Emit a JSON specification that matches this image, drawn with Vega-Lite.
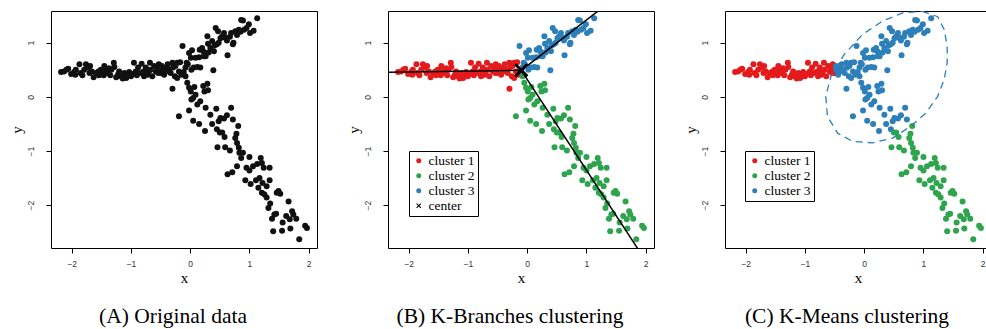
{
  "$schema": "https://vega.github.io/schema/vega-lite/v6.json",
  "padding": {"left": 8, "top": 10, "right": 0, "bottom": 0},
  "spacing": 27,
  "resolve": {"scale": {"color": "independent", "shape": "independent"}, "legend": {"color": "independent", "shape": "independent"}},
  "config": {
    "font": "Times New Roman, Liberation Serif, DejaVu Serif, serif",
    "view": {"stroke": "black", "strokeWidth": 1},
    "axis": {"domain": false, "grid": false, "tickColor": "black", "tickSize": 5, "labelFont": "Liberation Sans, Arial, sans-serif", "labelFontSize": 8.5, "labelColor": "#333", "titleFont": "Times New Roman, Liberation Serif, DejaVu Serif, serif", "titleFontSize": 15, "titleFontWeight": "normal", "titleColor": "black", "format": "d"},
    "axisX": {"labelPadding": 6, "titlePadding": 3},
    "axisY": {"labelAngle": -90, "labelAlign": "center", "labelBaseline": "bottom", "labelPadding": 11, "titlePadding": 2},
    "title": {"orient": "bottom", "font": "Times New Roman, Liberation Serif, DejaVu Serif, serif", "fontSize": 21.5, "fontWeight": "normal", "color": "black", "offset": 20, "dx": -11},
    "legend": {"labelFont": "Times New Roman, Liberation Serif, DejaVu Serif, serif", "labelFontSize": 13.5, "labelColor": "black", "strokeColor": "black", "fillColor": "white", "padding": 3, "symbolSize": 25, "rowPadding": 0, "labelOffset": 3, "cornerRadius": 0, "symbolStrokeWidth": 0}
  },
  "datasets": {
    "pts": [
      {"x":-2.18,"y":0.46,"b":"cluster 1","m":"cluster 1"},{"x":-2.13,"y":0.47,"b":"cluster 1","m":"cluster 1"},{"x":-2.09,"y":0.50,"b":"cluster 1","m":"cluster 1"},{"x":-2.06,"y":0.52,"b":"cluster 1","m":"cluster 1"},{"x":-2.01,"y":0.42,"b":"cluster 1","m":"cluster 1"},{"x":-1.96,"y":0.46,"b":"cluster 1","m":"cluster 1"},{"x":-1.94,"y":0.41,"b":"cluster 1","m":"cluster 1"},{"x":-1.93,"y":0.50,"b":"cluster 1","m":"cluster 1"},{"x":-1.87,"y":0.60,"b":"cluster 1","m":"cluster 1"},{"x":-1.85,"y":0.44,"b":"cluster 1","m":"cluster 1"},
      {"x":-1.82,"y":0.40,"b":"cluster 1","m":"cluster 1"},{"x":-1.79,"y":0.50,"b":"cluster 1","m":"cluster 1"},{"x":-1.76,"y":0.60,"b":"cluster 1","m":"cluster 1"},{"x":-1.73,"y":0.54,"b":"cluster 1","m":"cluster 1"},{"x":-1.70,"y":0.44,"b":"cluster 1","m":"cluster 1"},{"x":-1.69,"y":0.57,"b":"cluster 1","m":"cluster 1"},{"x":-1.66,"y":0.47,"b":"cluster 1","m":"cluster 1"},{"x":-1.63,"y":0.36,"b":"cluster 1","m":"cluster 1"},{"x":-1.59,"y":0.44,"b":"cluster 1","m":"cluster 1"},{"x":-1.55,"y":0.47,"b":"cluster 1","m":"cluster 1"},
      {"x":-1.54,"y":0.40,"b":"cluster 1","m":"cluster 1"},{"x":-1.51,"y":0.50,"b":"cluster 1","m":"cluster 1"},{"x":-1.48,"y":0.46,"b":"cluster 1","m":"cluster 1"},{"x":-1.46,"y":0.40,"b":"cluster 1","m":"cluster 1"},{"x":-1.45,"y":0.57,"b":"cluster 1","m":"cluster 1"},{"x":-1.42,"y":0.49,"b":"cluster 1","m":"cluster 1"},{"x":-1.39,"y":0.44,"b":"cluster 1","m":"cluster 1"},{"x":-1.37,"y":0.53,"b":"cluster 1","m":"cluster 1"},{"x":-1.35,"y":0.40,"b":"cluster 1","m":"cluster 1"},{"x":-1.33,"y":0.50,"b":"cluster 1","m":"cluster 1"},
      {"x":-1.29,"y":0.63,"b":"cluster 1","m":"cluster 1"},{"x":-1.28,"y":0.55,"b":"cluster 1","m":"cluster 1"},{"x":-1.25,"y":0.36,"b":"cluster 1","m":"cluster 1"},{"x":-1.22,"y":0.41,"b":"cluster 1","m":"cluster 1"},{"x":-1.20,"y":0.47,"b":"cluster 1","m":"cluster 1"},{"x":-1.17,"y":0.38,"b":"cluster 1","m":"cluster 1"},{"x":-1.14,"y":0.34,"b":"cluster 1","m":"cluster 1"},{"x":-1.11,"y":0.44,"b":"cluster 1","m":"cluster 1"},{"x":-1.08,"y":0.35,"b":"cluster 1","m":"cluster 1"},{"x":-1.07,"y":0.40,"b":"cluster 1","m":"cluster 1"},
      {"x":-1.03,"y":0.46,"b":"cluster 1","m":"cluster 1"},{"x":-1.00,"y":0.38,"b":"cluster 1","m":"cluster 1"},{"x":-0.97,"y":0.42,"b":"cluster 1","m":"cluster 1"},{"x":-0.95,"y":0.63,"b":"cluster 1","m":"cluster 1"},{"x":-0.92,"y":0.47,"b":"cluster 1","m":"cluster 1"},{"x":-0.90,"y":0.40,"b":"cluster 1","m":"cluster 1"},{"x":-0.88,"y":0.54,"b":"cluster 1","m":"cluster 1"},{"x":-0.85,"y":0.44,"b":"cluster 1","m":"cluster 1"},{"x":-0.82,"y":0.61,"b":"cluster 1","m":"cluster 1"},{"x":-0.79,"y":0.47,"b":"cluster 1","m":"cluster 1"},
      {"x":-0.78,"y":0.38,"b":"cluster 1","m":"cluster 1"},{"x":-0.75,"y":0.54,"b":"cluster 1","m":"cluster 1"},{"x":-0.72,"y":0.41,"b":"cluster 1","m":"cluster 1"},{"x":-0.70,"y":0.47,"b":"cluster 1","m":"cluster 1"},{"x":-0.68,"y":0.63,"b":"cluster 1","m":"cluster 1"},{"x":-0.67,"y":0.50,"b":"cluster 1","m":"cluster 1"},{"x":-0.64,"y":0.38,"b":"cluster 1","m":"cluster 1"},{"x":-0.61,"y":0.57,"b":"cluster 1","m":"cluster 1"},{"x":-0.58,"y":0.47,"b":"cluster 1","m":"cluster 1"},{"x":-0.55,"y":0.54,"b":"cluster 1","m":"cluster 1"},
      {"x":-0.54,"y":0.44,"b":"cluster 1","m":"cluster 1"},{"x":-0.53,"y":0.60,"b":"cluster 1","m":"cluster 1"},{"x":-0.50,"y":0.44,"b":"cluster 1","m":"cluster 1"},{"x":-0.48,"y":0.57,"b":"cluster 1","m":"cluster 3"},{"x":-0.47,"y":0.50,"b":"cluster 1","m":"cluster 3"},{"x":-0.44,"y":0.41,"b":"cluster 1","m":"cluster 3"},{"x":-0.41,"y":0.47,"b":"cluster 1","m":"cluster 3"},{"x":-0.40,"y":0.54,"b":"cluster 1","m":"cluster 3"},{"x":-0.38,"y":0.60,"b":"cluster 1","m":"cluster 3"},{"x":-0.36,"y":0.50,"b":"cluster 1","m":"cluster 3"},
      {"x":-0.33,"y":0.44,"b":"cluster 1","m":"cluster 3"},{"x":-0.30,"y":0.63,"b":"cluster 1","m":"cluster 3"},{"x":-0.30,"y":0.15,"b":"cluster 1","m":"cluster 3"},{"x":-0.29,"y":0.54,"b":"cluster 1","m":"cluster 3"},{"x":-0.26,"y":0.38,"b":"cluster 1","m":"cluster 3"},{"x":-0.25,"y":0.57,"b":"cluster 1","m":"cluster 3"},{"x":-0.22,"y":0.35,"b":"cluster 1","m":"cluster 3"},{"x":-0.22,"y":0.63,"b":"cluster 1","m":"cluster 3"},{"x":-0.19,"y":0.47,"b":"cluster 1","m":"cluster 3"},{"x":-0.17,"y":0.64,"b":"cluster 1","m":"cluster 3"},
      {"x":-0.15,"y":0.41,"b":"cluster 1","m":"cluster 3"},
      {"x":-0.13,"y":0.94,"b":"cluster 3","m":"cluster 3"},{"x":-0.11,"y":0.46,"b":"cluster 3","m":"cluster 3"},{"x":-0.08,"y":0.54,"b":"cluster 3","m":"cluster 3"},{"x":-0.06,"y":0.63,"b":"cluster 3","m":"cluster 3"},{"x":-0.04,"y":0.60,"b":"cluster 3","m":"cluster 3"},{"x":-0.02,"y":0.81,"b":"cluster 3","m":"cluster 3"},{"x":0.01,"y":0.72,"b":"cluster 3","m":"cluster 3"},{"x":0.02,"y":0.50,"b":"cluster 3","m":"cluster 3"},{"x":0.03,"y":0.86,"b":"cluster 3","m":"cluster 3"},{"x":0.06,"y":0.54,"b":"cluster 3","m":"cluster 3"},
      {"x":0.09,"y":0.72,"b":"cluster 3","m":"cluster 3"},{"x":0.12,"y":0.55,"b":"cluster 3","m":"cluster 3"},{"x":0.15,"y":0.73,"b":"cluster 3","m":"cluster 3"},{"x":0.16,"y":0.87,"b":"cluster 3","m":"cluster 3"},{"x":0.17,"y":0.54,"b":"cluster 3","m":"cluster 3"},{"x":0.20,"y":0.90,"b":"cluster 3","m":"cluster 3"},{"x":0.22,"y":0.84,"b":"cluster 3","m":"cluster 3"},{"x":0.23,"y":0.75,"b":"cluster 3","m":"cluster 3"},{"x":0.26,"y":0.75,"b":"cluster 3","m":"cluster 3"},{"x":0.29,"y":1.12,"b":"cluster 3","m":"cluster 3"},
      {"x":0.30,"y":0.98,"b":"cluster 3","m":"cluster 3"},{"x":0.31,"y":0.82,"b":"cluster 3","m":"cluster 3"},{"x":0.34,"y":0.90,"b":"cluster 3","m":"cluster 3"},{"x":0.37,"y":1.03,"b":"cluster 3","m":"cluster 3"},{"x":0.39,"y":0.49,"b":"cluster 3","m":"cluster 3"},{"x":0.40,"y":0.84,"b":"cluster 3","m":"cluster 3"},{"x":0.41,"y":0.95,"b":"cluster 3","m":"cluster 3"},{"x":0.43,"y":1.27,"b":"cluster 3","m":"cluster 3"},{"x":0.45,"y":0.97,"b":"cluster 3","m":"cluster 3"},{"x":0.47,"y":1.21,"b":"cluster 3","m":"cluster 3"},
      {"x":0.48,"y":1.00,"b":"cluster 3","m":"cluster 3"},{"x":0.51,"y":1.08,"b":"cluster 3","m":"cluster 3"},{"x":0.54,"y":1.12,"b":"cluster 3","m":"cluster 3"},{"x":0.57,"y":1.18,"b":"cluster 3","m":"cluster 3"},{"x":0.59,"y":1.09,"b":"cluster 3","m":"cluster 3"},{"x":0.62,"y":1.04,"b":"cluster 3","m":"cluster 3"},{"x":0.63,"y":0.77,"b":"cluster 3","m":"cluster 3"},{"x":0.67,"y":1.11,"b":"cluster 3","m":"cluster 3"},{"x":0.69,"y":1.18,"b":"cluster 3","m":"cluster 3"},{"x":0.72,"y":0.97,"b":"cluster 3","m":"cluster 3"},
      {"x":0.73,"y":1.00,"b":"cluster 3","m":"cluster 3"},{"x":0.76,"y":1.21,"b":"cluster 3","m":"cluster 3"},{"x":0.79,"y":1.14,"b":"cluster 3","m":"cluster 3"},{"x":0.82,"y":1.24,"b":"cluster 3","m":"cluster 3"},{"x":0.85,"y":1.20,"b":"cluster 3","m":"cluster 3"},{"x":0.86,"y":1.42,"b":"cluster 3","m":"cluster 3"},{"x":0.89,"y":1.41,"b":"cluster 3","m":"cluster 3"},{"x":0.91,"y":1.24,"b":"cluster 3","m":"cluster 3"},{"x":0.95,"y":1.27,"b":"cluster 3","m":"cluster 3"},{"x":0.99,"y":1.34,"b":"cluster 3","m":"cluster 3"},
      {"x":1.01,"y":1.18,"b":"cluster 3","m":"cluster 3"},{"x":1.07,"y":1.22,"b":"cluster 3","m":"cluster 3"},{"x":1.13,"y":1.45,"b":"cluster 3","m":"cluster 3"},
      {"x":-0.08,"y":0.38,"b":"cluster 2","m":"cluster 3"},{"x":-0.05,"y":0.26,"b":"cluster 2","m":"cluster 3"},{"x":-0.02,"y":0.17,"b":"cluster 2","m":"cluster 3"},{"x":0.01,"y":0.10,"b":"cluster 2","m":"cluster 3"},{"x":0.02,"y":-0.05,"b":"cluster 2","m":"cluster 3"},{"x":0.05,"y":-0.02,"b":"cluster 2","m":"cluster 3"},{"x":0.07,"y":0.18,"b":"cluster 2","m":"cluster 3"},{"x":0.09,"y":0.04,"b":"cluster 2","m":"cluster 3"},{"x":-0.02,"y":-0.25,"b":"cluster 2","m":"cluster 3"},{"x":-0.19,"y":-0.36,"b":"cluster 2","m":"cluster 3"},
      {"x":0.05,"y":-0.44,"b":"cluster 2","m":"cluster 3"},{"x":0.12,"y":-0.14,"b":"cluster 2","m":"cluster 3"},{"x":0.15,"y":-0.50,"b":"cluster 2","m":"cluster 3"},{"x":0.17,"y":-0.08,"b":"cluster 2","m":"cluster 3"},{"x":0.22,"y":0.20,"b":"cluster 2","m":"cluster 3"},{"x":0.24,"y":0.10,"b":"cluster 2","m":"cluster 3"},{"x":0.26,"y":-0.20,"b":"cluster 2","m":"cluster 3"},{"x":0.29,"y":0.24,"b":"cluster 2","m":"cluster 3"},{"x":0.30,"y":0.12,"b":"cluster 2","m":"cluster 3"},{"x":0.25,"y":-0.63,"b":"cluster 2","m":"cluster 3"},
      {"x":0.34,"y":-0.33,"b":"cluster 2","m":"cluster 3"},{"x":0.37,"y":-0.50,"b":"cluster 2","m":"cluster 3"},{"x":0.44,"y":-0.22,"b":"cluster 2","m":"cluster 3"},{"x":0.45,"y":-0.60,"b":"cluster 2","m":"cluster 3"},{"x":0.48,"y":-0.45,"b":"cluster 2","m":"cluster 3"},{"x":0.51,"y":-0.39,"b":"cluster 2","m":"cluster 3"},{"x":0.57,"y":-0.40,"b":"cluster 2","m":"cluster 3"},{"x":0.62,"y":-0.34,"b":"cluster 2","m":"cluster 3"},{"x":0.69,"y":-0.20,"b":"cluster 2","m":"cluster 3"},{"x":0.72,"y":-0.42,"b":"cluster 2","m":"cluster 3"},
      {"x":0.46,"y":-0.93,"b":"cluster 2","m":"cluster 2"},{"x":0.50,"y":-0.66,"b":"cluster 2","m":"cluster 2"},{"x":0.54,"y":-0.66,"b":"cluster 2","m":"cluster 2"},{"x":0.58,"y":-0.74,"b":"cluster 2","m":"cluster 2"},{"x":0.59,"y":-0.93,"b":"cluster 2","m":"cluster 2"},{"x":0.63,"y":-1.43,"b":"cluster 2","m":"cluster 2"},{"x":0.67,"y":-0.99,"b":"cluster 2","m":"cluster 2"},{"x":0.71,"y":-1.39,"b":"cluster 2","m":"cluster 2"},{"x":0.76,"y":-0.76,"b":"cluster 2","m":"cluster 2"},{"x":0.78,"y":-0.68,"b":"cluster 2","m":"cluster 2"},
      {"x":0.79,"y":-0.85,"b":"cluster 2","m":"cluster 2"},{"x":0.81,"y":-0.54,"b":"cluster 2","m":"cluster 2"},{"x":0.82,"y":-0.94,"b":"cluster 2","m":"cluster 2"},{"x":0.83,"y":-1.03,"b":"cluster 2","m":"cluster 2"},{"x":0.86,"y":-1.13,"b":"cluster 2","m":"cluster 2"},{"x":0.79,"y":-1.28,"b":"cluster 2","m":"cluster 2"},{"x":0.89,"y":-1.03,"b":"cluster 2","m":"cluster 2"},{"x":0.93,"y":-1.54,"b":"cluster 2","m":"cluster 2"},{"x":0.95,"y":-1.31,"b":"cluster 2","m":"cluster 2"},{"x":1.00,"y":-1.11,"b":"cluster 2","m":"cluster 2"},
      {"x":1.00,"y":-1.36,"b":"cluster 2","m":"cluster 2"},{"x":1.02,"y":-1.61,"b":"cluster 2","m":"cluster 2"},{"x":1.06,"y":-1.28,"b":"cluster 2","m":"cluster 2"},{"x":1.11,"y":-1.54,"b":"cluster 2","m":"cluster 2"},{"x":1.13,"y":-1.24,"b":"cluster 2","m":"cluster 2"},{"x":1.15,"y":-1.68,"b":"cluster 2","m":"cluster 2"},{"x":1.17,"y":-1.50,"b":"cluster 2","m":"cluster 2"},{"x":1.19,"y":-1.13,"b":"cluster 2","m":"cluster 2"},{"x":1.21,"y":-1.22,"b":"cluster 2","m":"cluster 2"},{"x":1.21,"y":-1.77,"b":"cluster 2","m":"cluster 2"},
      {"x":1.22,"y":-1.59,"b":"cluster 2","m":"cluster 2"},{"x":1.24,"y":-1.31,"b":"cluster 2","m":"cluster 2"},{"x":1.25,"y":-1.80,"b":"cluster 2","m":"cluster 2"},{"x":1.29,"y":-1.86,"b":"cluster 2","m":"cluster 2"},{"x":1.29,"y":-1.65,"b":"cluster 2","m":"cluster 2"},{"x":1.32,"y":-2.05,"b":"cluster 2","m":"cluster 2"},{"x":1.34,"y":-1.54,"b":"cluster 2","m":"cluster 2"},{"x":1.34,"y":-1.31,"b":"cluster 2","m":"cluster 2"},{"x":1.35,"y":-1.97,"b":"cluster 2","m":"cluster 2"},{"x":1.38,"y":-2.25,"b":"cluster 2","m":"cluster 2"},
      {"x":1.40,"y":-2.48,"b":"cluster 2","m":"cluster 2"},{"x":1.42,"y":-2.17,"b":"cluster 2","m":"cluster 2"},{"x":1.45,"y":-2.16,"b":"cluster 2","m":"cluster 2"},{"x":1.46,"y":-1.77,"b":"cluster 2","m":"cluster 2"},{"x":1.49,"y":-1.74,"b":"cluster 2","m":"cluster 2"},{"x":1.52,"y":-1.79,"b":"cluster 2","m":"cluster 2"},{"x":1.55,"y":-2.47,"b":"cluster 2","m":"cluster 2"},{"x":1.56,"y":-2.32,"b":"cluster 2","m":"cluster 2"},{"x":1.62,"y":-2.20,"b":"cluster 2","m":"cluster 2"},{"x":1.66,"y":-1.93,"b":"cluster 2","m":"cluster 2"},
      {"x":1.68,"y":-2.26,"b":"cluster 2","m":"cluster 2"},{"x":1.69,"y":-2.43,"b":"cluster 2","m":"cluster 2"},{"x":1.72,"y":-2.11,"b":"cluster 2","m":"cluster 2"},{"x":1.74,"y":-2.17,"b":"cluster 2","m":"cluster 2"},{"x":1.79,"y":-2.25,"b":"cluster 2","m":"cluster 2"},{"x":1.84,"y":-2.63,"b":"cluster 2","m":"cluster 2"},{"x":1.94,"y":-2.38,"b":"cluster 2","m":"cluster 2"},{"x":1.97,"y":-2.42,"b":"cluster 2","m":"cluster 2"}
    ],
    "branches": [
      {"seg":"left","x":-2.4,"y":0.455},{"seg":"left","x":-0.1,"y":0.49},
      {"seg":"up","x":-0.1,"y":0.49},{"seg":"up","x":1.25,"y":1.63},
      {"seg":"down","x":-0.1,"y":0.49},{"seg":"down","x":1.9,"y":-2.86}
    ],
    "center": [{"x":-0.1,"y":0.49,"b":"center"}],
    "ellipse": [
      {"i":0,"x":0.98,"y":1.58},{"i":1,"x":1.24,"y":1.48},{"i":2,"x":1.35,"y":1.24},{"i":3,"x":1.40,"y":0.94},{"i":4,"x":1.40,"y":0.63},{"i":5,"x":1.35,"y":0.32},{"i":6,"x":1.24,"y":0.01},{"i":7,"x":1.04,"y":-0.30},{"i":8,"x":0.79,"y":-0.54},{"i":9,"x":0.48,"y":-0.76},{"i":10,"x":0.14,"y":-0.85},{"i":11,"x":-0.20,"y":-0.82},{"i":12,"x":-0.45,"y":-0.67},{"i":13,"x":-0.62,"y":-0.36},{"i":14,"x":-0.65,"y":0.01},{"i":15,"x":-0.56,"y":0.38},{"i":16,"x":-0.34,"y":0.78},{"i":17,"x":-0.03,"y":1.15},{"i":18,"x":0.31,"y":1.40},{"i":19,"x":0.65,"y":1.55},{"i":20,"x":0.98,"y":1.58}
    ]
  },
  "hconcat": [
    {
      "title": {"text": "(A) Original data"},
      "width": 266, "height": 237,
      "data": {"name": "pts"},
      "mark": {"type": "point", "filled": true, "size": 36, "opacity": 1, "color": "#111111"},
      "encoding": {
        "x": {"field": "x", "type": "quantitative", "scale": {"domain": [-2.35, 2.14], "nice": false, "zero": false}, "axis": {"values": [-2, -1, 0, 1, 2], "title": "x"}},
        "y": {"field": "y", "type": "quantitative", "scale": {"domain": [-2.79, 1.585], "nice": false, "zero": false}, "axis": {"values": [-2, -1, 0, 1], "title": "y"}}
      }
    },
    {
      "title": {"text": "(B) K-Branches clustering"},
      "width": 266, "height": 237,
      "layer": [
        {
          "data": {"name": "pts"},
          "mark": {"type": "point", "filled": true, "size": 36, "opacity": 1},
          "encoding": {
            "x": {"field": "x", "type": "quantitative", "scale": {"domain": [-2.35, 2.14], "nice": false, "zero": false}, "axis": {"values": [-2, -1, 0, 1, 2], "title": "x"}},
            "y": {"field": "y", "type": "quantitative", "scale": {"domain": [-2.79, 1.585], "nice": false, "zero": false}, "axis": {"values": [-2, -1, 0, 1], "title": "y"}},
            "color": {"field": "b", "type": "nominal", "scale": {"domain": ["cluster 1", "cluster 2", "cluster 3", "center"], "range": ["#e41a1c", "#2ea44f", "#2c7fb8", "black"]}, "legend": {"orient": "none", "legendX": 21, "legendY": 140, "title": null}},
            "shape": {"field": "b", "type": "nominal", "scale": {"domain": ["cluster 1", "cluster 2", "cluster 3", "center"], "range": ["circle", "circle", "circle", "M-1,-0.7L-0.3,0L-1,0.7L-0.7,1L0,0.3L0.7,1L1,0.7L0.3,0L1,-0.7L0.7,-1L0,-0.3L-0.7,-1Z"]}, "legend": {"orient": "none", "legendX": 21, "legendY": 140, "title": null}}
          }
        },
        {
          "data": {"name": "branches"},
          "mark": {"type": "line", "color": "black", "strokeWidth": 1.5, "clip": true},
          "encoding": {
            "x": {"field": "x", "type": "quantitative"},
            "y": {"field": "y", "type": "quantitative"},
            "detail": {"field": "seg", "type": "nominal"}
          }
        },
        {
          "data": {"name": "center"},
          "mark": {"type": "point", "filled": true, "size": 200, "opacity": 1},
          "encoding": {
            "x": {"field": "x", "type": "quantitative"},
            "y": {"field": "y", "type": "quantitative"},
            "color": {"field": "b", "type": "nominal", "legend": {"orient": "none", "legendX": 21, "legendY": 140, "title": null}},
            "shape": {"field": "b", "type": "nominal", "legend": {"orient": "none", "legendX": 21, "legendY": 140, "title": null}}
          }
        }
      ]
    },
    {
      "title": {"text": "(C) K-Means clustering"},
      "width": 266, "height": 237,
      "layer": [
        {
          "data": {"name": "pts"},
          "mark": {"type": "point", "filled": true, "size": 36, "opacity": 1},
          "encoding": {
            "x": {"field": "x", "type": "quantitative", "scale": {"domain": [-2.35, 2.14], "nice": false, "zero": false}, "axis": {"values": [-2, -1, 0, 1, 2], "title": "x"}},
            "y": {"field": "y", "type": "quantitative", "scale": {"domain": [-2.79, 1.585], "nice": false, "zero": false}, "axis": {"values": [-2, -1, 0, 1], "title": "y"}},
            "color": {"field": "m", "type": "nominal", "scale": {"domain": ["cluster 1", "cluster 2", "cluster 3"], "range": ["#e41a1c", "#2ea44f", "#2c7fb8"]}, "legend": {"orient": "none", "legendX": 20, "legendY": 140, "title": null, "symbolType": "circle"}}
          }
        },
        {
          "data": {"name": "ellipse"},
          "mark": {"type": "line", "color": "#2c7fb8", "strokeWidth": 1.3, "strokeDash": [7, 5], "clip": true},
          "encoding": {
            "x": {"field": "x", "type": "quantitative"},
            "y": {"field": "y", "type": "quantitative"},
            "order": {"field": "i", "type": "quantitative"}
          }
        }
      ]
    }
  ]
}
